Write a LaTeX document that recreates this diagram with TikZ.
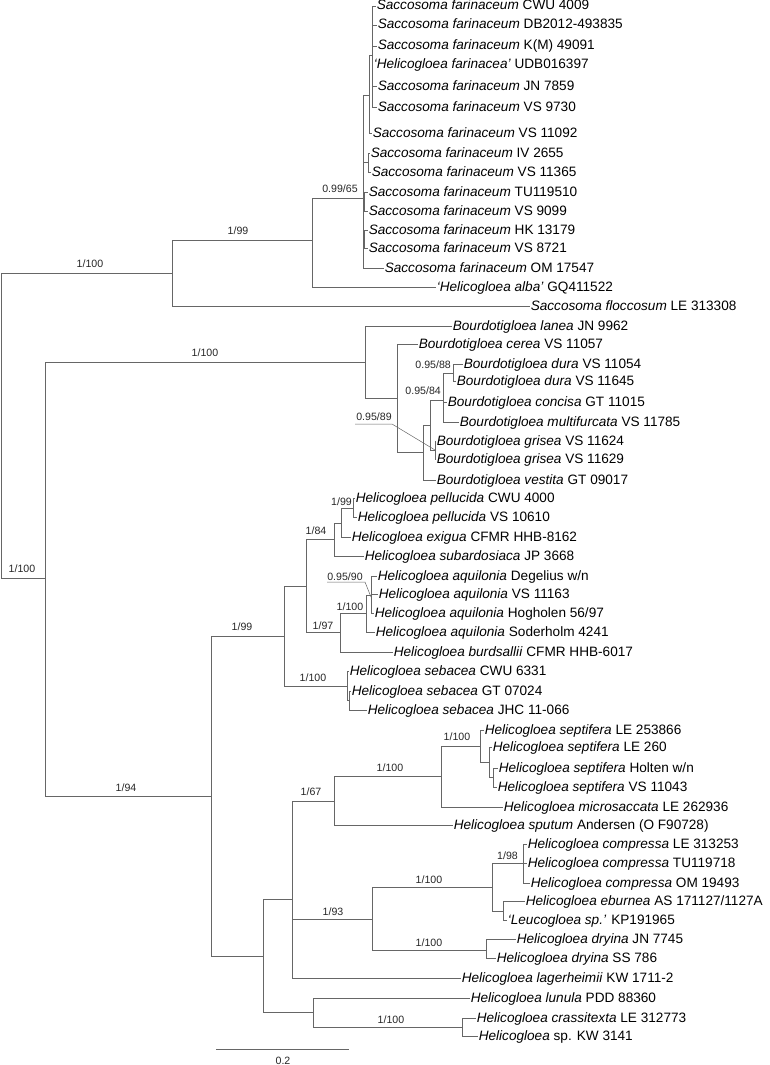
\documentclass[tikz,border=0pt]{standalone}
\usepackage{fontspec}
\setmainfont{Liberation Sans}
\begin{document}
\begin{tikzpicture}[x=1pt,y=-1pt,
  br/.style={draw=black!60, line width=0.9pt},
  leaf/.style={anchor=west, inner sep=0.6pt, font=\fontsize{13.6}{14}\selectfont, text height=10pt, text depth=2pt},
  lab/.style={font=\fontsize{10.6}{11}\selectfont, inner sep=0pt, text=black!85},
  thin/.style={draw=black!60, line width=0.5pt}]
\newcommand\lf[5]{\node[leaf] (#1) at (#2,#3) {\textit{#4} #5};}
\useasboundingbox (0,0) rectangle (769,1065);
% internal nodes
\coordinate (R) at (1,425);
\coordinate (A) at (172,273);
\coordinate (C) at (312,240);
\coordinate (D) at (363,198);
\coordinate (E) at (369,95);
\coordinate (F) at (368,162);
\coordinate (G) at (364,201);
\coordinate (H) at (364,239);
\coordinate (I) at (372,55);
\coordinate (B) at (45,578);
\coordinate (J) at (365,362);
\coordinate (L) at (397,398);
\coordinate (M) at (423,452);
\coordinate (N) at (430,425);
\coordinate (O) at (443,400);
\coordinate (P) at (435,450);
\coordinate (Q) at (453,373);
\coordinate (K) at (211,796);
\coordinate (S) at (284,636);
\coordinate (U) at (306,586);
\coordinate (V) at (347,686);
\coordinate (W) at (334,539);
\coordinate (X) at (340,632);
\coordinate (Y) at (341,523);
\coordinate (Z) at (353,508);
\coordinate (AA) at (366,613);
\coordinate (AB) at (371,595);
\coordinate (AC) at (349,700);
\coordinate (T) at (263,956);
\coordinate (AD) at (292,899);
\coordinate (AE) at (313,1012);
\coordinate (AF) at (334,801);
\coordinate (AG) at (372,919);
\coordinate (AH) at (441,776);
\coordinate (AI) at (480,746);
\coordinate (AJ) at (489,762);
\coordinate (AK) at (493,777);
\coordinate (AL) at (492,887);
\coordinate (AM) at (486,950);
\coordinate (AN) at (523,863);
\coordinate (AO) at (503,911);
\coordinate (AP) at (462,1027);
% leaves
\lf{l1}{376}{6}{Saccosoma farinaceum}{CWU 4009}
\lf{l2}{377}{25}{Saccosoma farinaceum}{DB2012-493835}
\lf{l3}{377}{46}{Saccosoma farinaceum}{K(M) 49091}
\lf{l4}{373}{65}{‘Helicogloea farinacea’}{UDB016397}
\lf{l5}{377}{86}{Saccosoma farinaceum}{JN 7859}
\lf{l6}{377}{107}{Saccosoma farinaceum}{VS 9730}
\lf{l7}{372}{133}{Saccosoma farinaceum}{VS 11092}
\lf{l8}{370}{153}{Saccosoma farinaceum}{IV 2655}
\lf{l9}{371}{172}{Saccosoma farinaceum}{VS 11365}
\lf{l10}{368}{192}{Saccosoma farinaceum}{TU119510}
\lf{l11}{368}{211}{Saccosoma farinaceum}{VS 9099}
\lf{l12}{368}{230}{Saccosoma farinaceum}{HK 13179}
\lf{l13}{368}{248}{Saccosoma farinaceum}{VS 8721}
\lf{l14}{384}{268}{Saccosoma farinaceum}{OM 17547}
\lf{l15}{436}{287}{‘Helicogloea alba’}{GQ411522}
\lf{l16}{530}{306}{Saccosoma floccosum}{LE 313308}
\lf{l17}{452}{326}{Bourdotigloea lanea}{JN 9962}
\lf{l18}{418}{344}{Bourdotigloea cerea}{VS 11057}
\lf{l19}{463}{364}{Bourdotigloea dura}{VS 11054}
\lf{l20}{456}{381}{Bourdotigloea dura}{VS 11645}
\lf{l21}{447}{402}{Bourdotigloea concisa}{GT 11015}
\lf{l22}{459}{422}{Bourdotigloea multifurcata}{VS 11785}
\lf{l23}{436}{441}{Bourdotigloea grisea}{VS 11624}
\lf{l24}{436}{459}{Bourdotigloea grisea}{VS 11629}
\lf{l25}{436}{480}{Bourdotigloea vestita}{GT 09017}
\lf{l26}{355}{498}{Helicogloea pellucida}{CWU 4000}
\lf{l27}{357}{517}{Helicogloea pellucida}{VS 10610}
\lf{l28}{351}{537}{Helicogloea exigua}{CFMR HHB-8162}
\lf{l29}{364}{556}{Helicogloea subardosiaca}{JP 3668}
\lf{l30}{377}{576}{Helicogloea aquilonia}{Degelius w/n}
\lf{l31}{378}{594}{Helicogloea aquilonia}{VS 11163}
\lf{l32}{374}{613}{Helicogloea aquilonia}{Hogholen 56/97}
\lf{l33}{375}{632}{Helicogloea aquilonia}{Soderholm 4241}
\lf{l34}{393}{652}{Helicogloea burdsallii}{CFMR HHB-6017}
\lf{l35}{349}{671}{Helicogloea sebacea}{CWU 6331}
\lf{l36}{351}{691}{Helicogloea sebacea}{GT 07024}
\lf{l37}{367}{710}{Helicogloea sebacea}{JHC 11-066}
\lf{l38}{484}{730}{Helicogloea septifera}{LE 253866}
\lf{l39}{492}{747}{Helicogloea septifera}{LE 260}
\lf{l40}{498}{768}{Helicogloea septifera}{Holten w/n}
\lf{l41}{497}{787}{Helicogloea septifera}{VS 11043}
\lf{l42}{503}{807}{Helicogloea microsaccata}{LE 262936}
\lf{l43}{453}{825}{Helicogloea sputum}{Andersen (O F90728)}
\lf{l44}{527}{844}{Helicogloea compressa}{LE 313253}
\lf{l45}{527}{863}{Helicogloea compressa}{TU119718}
\lf{l46}{530}{883}{Helicogloea compressa}{OM 19493}
\lf{l47}{525}{901}{Helicogloea eburnea}{AS 171127/1127A}
\lf{l48}{507}{920}{‘Leucogloea sp.’}{KP191965}
\lf{l49}{516}{939}{Helicogloea dryina}{JN 7745}
\lf{l50}{496}{958}{Helicogloea dryina}{SS 786}
\lf{l51}{461}{978}{Helicogloea lagerheimii}{KW 1711-2}
\lf{l52}{470}{998}{Helicogloea lunula}{PDD 88360}
\lf{l53}{476}{1018}{Helicogloea crassitexta}{LE 312773}
\lf{l54}{478}{1036}{Helicogloea}{sp. KW 3141}
% edges
\foreach \p/\c in {R/A,R/B,A/C,C/D,D/E,D/F,D/G,D/H,E/I,B/J,B/K,J/L,L/M,M/N,N/O,N/P,O/Q,
  K/S,K/T,S/U,S/V,U/W,U/X,W/Y,Y/Z,X/AA,AA/AB,V/AC,T/AD,T/AE,AD/AF,AD/AG,AF/AH,AH/AI,AI/AJ,AJ/AK,
  AG/AL,AG/AM,AL/AN,AL/AO,AE/AP}
  \draw[br] (\p) |- (\c);
\foreach \p/\c in {I/l1,I/l2,I/l3,I/l4,I/l5,I/l6,E/l7,F/l8,F/l9,G/l10,G/l11,H/l12,H/l13,D/l14,C/l15,A/l16,
  J/l17,L/l18,Q/l19,Q/l20,O/l21,O/l22,P/l23,P/l24,M/l25,
  Z/l26,Z/l27,Y/l28,W/l29,AB/l30,AB/l31,AB/l32,AA/l33,X/l34,V/l35,AC/l36,AC/l37,
  AI/l38,AJ/l39,AK/l40,AK/l41,AH/l42,AF/l43,AN/l44,AN/l45,AN/l46,AO/l47,AO/l48,AM/l49,AM/l50,AD/l51,AE/l52,AP/l53,AP/l54}
  \draw[br] (\p) |- (\c.west);
% support labels
\node[lab] (s1) at (90,264) {1/100};
\node[lab] (s2) at (238,231) {1/99};
\node[lab] (s3) at (340,189) {0.99/65};
\node[lab] (s4) at (205,353) {1/100};
\node[lab] (s5) at (22,569) {1/100};
\node[lab] (s6) at (126,788) {1/94};
\node[lab,anchor=east] (s7) at (451,365) {0.95/88};
\node[lab,anchor=east] (s8) at (441,391) {0.95/84};
\node[lab] (s9) at (374,417) {0.95/89};
\coordinate (s9u) at (392,424);
\draw[thin] (355,424) -- (s9u) -- (P);
\node[lab] (s10) at (242,627) {1/99};
\node[lab] (s11) at (316,531) {1/84};
\node[lab,anchor=east] (s12) at (352,502) {1/99};
\node[lab] (s13) at (323,626) {1/97};
\node[lab] (s14) at (350,607) {1/100};
\node[lab] (s15) at (345,577) {0.95/90};
\coordinate (s15u) at (365,582);
\draw[thin] (327,582) -- (s15u) -- (371,597);
\node[lab] (s16) at (313,678) {1/100};
\node[lab] (s17) at (457,737) {1/100};
\node[lab] (s18) at (390,768) {1/100};
\node[lab] (s19) at (311,792) {1/67};
\node[lab,anchor=east] (s20) at (518,856) {1/98};
\node[lab] (s21) at (429,880) {1/100};
\node[lab] (s22) at (333,912) {1/93};
\node[lab] (s23) at (429,943) {1/100};
\node[lab] (s24) at (391,1020) {1/100};
% scale bar
\coordinate (sb1) at (216,1049);
\coordinate (sb2) at (349,1049);
\draw[br] (sb1) -- (sb2);
\node[lab] (sbl) at (283,1061) {0.2};
\end{tikzpicture}
\end{document}
